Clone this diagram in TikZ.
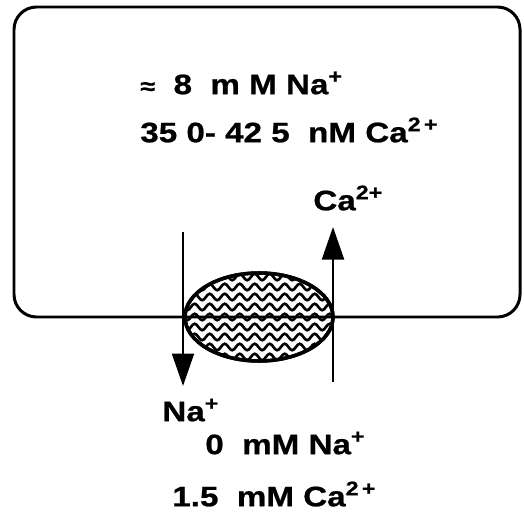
\documentclass[tikz,border=0pt]{standalone}
\usepackage{fontspec}
\setmainfont[FakeStretch=1.18, FakeBold=0.8]{Liberation Sans}
\usetikzlibrary{arrows.meta, shapes.geometric, decorations.pathmorphing}

\begin{document}
\begin{tikzpicture}[>={Triangle[length=0.65cm, width=0.44cm]},
    font=\fontsize{16}{19}\selectfont\bfseries,
    cell/.style={draw=black, line width=1.7pt, rounded corners=0.45cm},
    pump/.style={draw=black, line width=2pt, ellipse,
        minimum width=2.96cm, minimum height=1.76cm, inner sep=0pt},
    wave/.style={black, line width=1.5pt,
        decorate, decoration={snake, segment length=0.3cm, amplitude=0.065cm}},
    flux/.style={->, line width=1.2pt, black},
    conc/.style={anchor=west, inner sep=0pt},
]
\useasboundingbox (0,0) rectangle (10.48,-10.28);

% ================= cell and exchanger =================
\draw[cell] (0.28,-0.14) rectangle (10.40,-6.34);

\node[pump] (pump) at (5.18,-6.34) {};
\begin{scope}
    \clip (pump.center) ellipse (1.47cm and 0.87cm);
    \foreach \k in {0,...,8}{
        \draw[wave] (3.5,-5.54-0.2*\k) -- (6.9,-5.54-0.2*\k);
    }
\end{scope}
\node[pump] at (pump.center) {};

% ================= inside =================
\node[conc] (naIn) at (2.80,-1.66) {{\fontsize{13}{15}\selectfont ≈}\ \ 8\ \ m M Na\textsuperscript{+}};
\node[conc] (caIn) at (2.80,-2.60) {35 0- 42 5\ \ nM Ca\textsuperscript{2\,+}};

% ================= fluxes =================
\coordinate (naTop) at (3.66,-4.64);
\coordinate (naTip) at (3.66,-7.72);
\coordinate (caBot) at (6.66,-7.64);
\coordinate (caTip) at (6.66,-4.54);
\draw[flux] (naTop) -- (naTip);
\draw[flux] (caBot) -- (caTip);

\node[conc] (caLab) at (6.26,-3.96) {Ca\textsuperscript{2+}};
\node[conc] (naLab) at (3.24,-8.20) {Na\textsuperscript{+}};

% ================= outside =================
\node[conc] (naOut) at (4.10,-8.86) {0\ \ mM Na\textsuperscript{+}};
\node[conc] (caOut) at (3.44,-9.88) {1.5\ \ mM Ca\textsuperscript{2\,+}};

\end{tikzpicture}
\end{document}
